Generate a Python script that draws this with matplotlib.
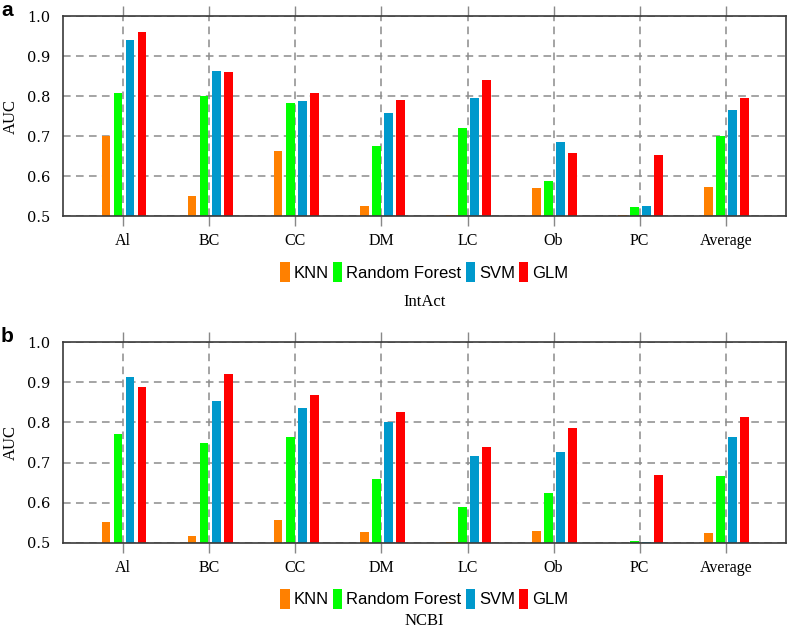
import matplotlib
matplotlib.use("Agg")
import matplotlib.pyplot as plt
import numpy as np

# data
categories = ["Al", "BC", "CC", "DM", "LC", "Ob", "PC", "Average"]
methods = ["KNN", "Random Forest", "SVM", "GLM"]
colors = ["#ff8000", "#00ff00", "#0099cc", "#ff0000"]

intact_knn = [0.700, 0.549, 0.663, 0.525, 0.502, 0.570, 0.502, 0.572]
intact_rf = [0.808, 0.800, 0.782, 0.674, 0.721, 0.588, 0.523, 0.700]
intact_svm = [0.939, 0.862, 0.787, 0.758, 0.796, 0.684, 0.525, 0.764]
intact_glm = [0.959, 0.860, 0.808, 0.791, 0.839, 0.658, 0.653, 0.795]

ncbi_knn = [0.551, 0.517, 0.557, 0.527, 0.502, 0.530, 0.501, 0.526]
ncbi_rf = [0.772, 0.749, 0.764, 0.660, 0.590, 0.625, 0.506, 0.667]
ncbi_svm = [0.912, 0.854, 0.837, 0.802, 0.716, 0.727, 0.503, 0.764]
ncbi_glm = [0.889, 0.921, 0.867, 0.826, 0.740, 0.787, 0.670, 0.813]

W, H = 787, 631
fig = plt.figure(figsize=(W / 100, H / 100), dpi=100)

serif = ["Liberation Serif", "DejaVu Serif"]


def panel(top_px, bottom_px, series, name, letter, name_off):
    h = bottom_px - top_px
    ax = fig.add_axes([63 / W, 1 - bottom_px / H, 723 / W, h / H])
    x = np.arange(len(categories))
    step = 0.14
    width = 0.1
    for i, (vals, col) in enumerate(zip(series, colors)):
        ax.bar(x + (i - 1.5) * step + 0.01, vals, width=width, color=col,
               label=methods[i], zorder=3, linewidth=0)
    ax.set_xlim(-0.7, len(categories) - 0.3)
    ax.set_ylim(0.5, 1.0)
    ax.set_yticks([0.5, 0.6, 0.7, 0.8, 0.9, 1.0])
    ax.set_yticklabels(["0.5", "0.6", "0.7", "0.8", "0.9", "1.0"],
                       family="DejaVu Serif", fontsize=10.5)
    ax.set_xticks(x)
    ax.set_xticklabels(categories, family=serif, fontsize=11.5)
    ax.tick_params(axis="y", length=0, pad=9)
    ax.tick_params(axis="x", direction="out", length=7, width=1, color="#888888",
                   top=True, pad=5)
    ax.grid(True, linestyle=(0, (5, 3.5)), color="#8c8c8c", linewidth=1.1, zorder=0)
    for s in ax.spines.values():
        s.set_color("#3a3a3a")
        s.set_linewidth(1.2)
        s.set_zorder(4)
    ax.set_ylabel("AUC", family=serif, fontsize=12)
    ax.yaxis.set_label_coords(-44 / 723, 0.5)
    ax.legend(loc="center", bbox_to_anchor=(0.5, -56 / h),
              ncol=4, frameon=False, handlelength=0.55, handleheight=1.5,
              handletextpad=0.25, columnspacing=0.25,
              prop={"family": "Liberation Sans", "size": 12})
    ax.text(0.5, -name_off / h, name, transform=ax.transAxes,
            ha="center", va="center", family=serif, fontsize=12)
    fig.text(1 / W, 1 - (top_px - 6) / H, letter, ha="left", va="center",
             fontsize=15, fontweight="bold", family="Liberation Sans")
    return ax


panel(16, 216, [intact_knn, intact_rf, intact_svm, intact_glm], "IntAct", "a", 86)
panel(342, 543, [ncbi_knn, ncbi_rf, ncbi_svm, ncbi_glm], "NCBI", "b", 78)

fig.savefig("out.png", dpi=100)
